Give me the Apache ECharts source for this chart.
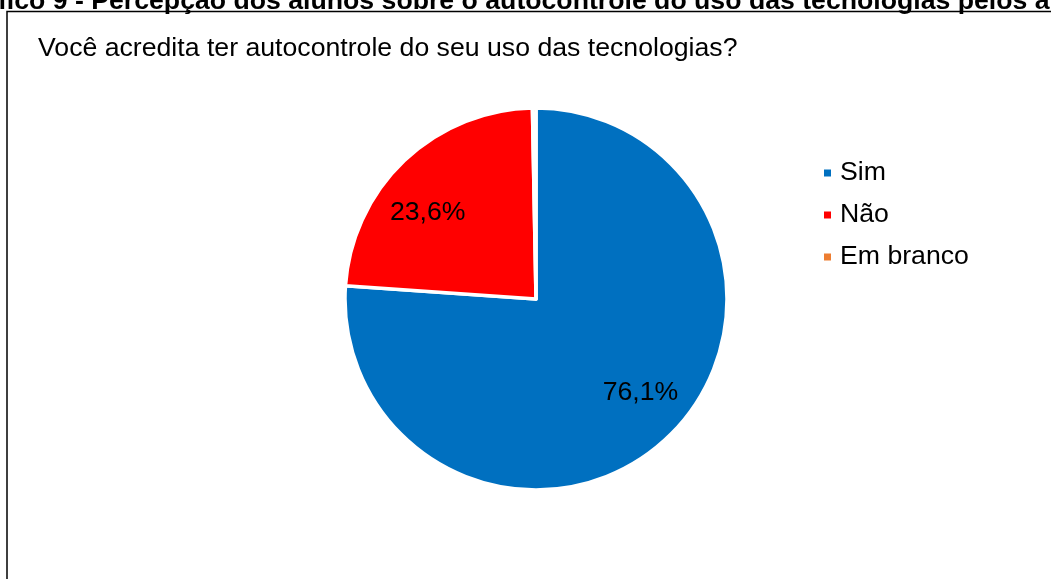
<!DOCTYPE html>
<html>
<head>
<meta charset="utf-8">
<script src="https://cdn.jsdelivr.net/npm/echarts@6/dist/echarts.min.js"></script>
<style>
  html, body { margin: 0; padding: 0; background: #ffffff; }
  #chart { width: 1051px; height: 579px; }
</style>
</head>
<body>
<div id="chart"></div>
<script>
// Survey answers (percent of students)
const categories = ['Sim', 'Não', 'Em branco'];
const shares = [76.1, 23.6, 0.3];
const sliceColors = ['#0070C0', '#FF0000', '#ED7D31'];
const shownLabels = ['Sim', 'Não'];

const figureCaption = 'Gráfico 9 - Percepção dos alunos sobre o autocontrole do uso das tecnologias pelos alunos';
const questionTitle = 'Você acredita ter autocontrole do seu uso das tecnologias?';

const FONT = 'Arial, "Liberation Sans", sans-serif';
const TEXT_SIZE = 26.67;

const pieData = categories.map((name, i) => ({
  name: name,
  value: shares[i],
  itemStyle: { color: sliceColors[i] }
}));

const fmtPct = v => v.toFixed(1).replace('.', ',') + '%';

const chart = echarts.init(document.getElementById('chart'), null, { renderer: 'canvas' });

chart.setOption({
  backgroundColor: '#ffffff',
  animation: false,
  title: {
    text: questionTitle,
    left: 33,
    top: 30,
    textStyle: { fontFamily: FONT, fontSize: TEXT_SIZE, fontWeight: 'normal', color: '#000000' }
  },
  legend: {
    orient: 'vertical',
    left: 817,
    top: 153,
    data: categories,
    icon: 'rect',
    itemWidth: 9,
    itemHeight: 9,
    itemGap: 12,
    selectedMode: false,
    textStyle: { fontFamily: FONT, fontSize: TEXT_SIZE, color: '#000000', lineHeight: 30, padding: [0, 0, 0, 3] }
  },
  graphic: [
    {
      type: 'rect',
      silent: true,
      shape: { x: 7, y: 11.5, width: 1200, height: 800 },
      style: { fill: 'none', stroke: '#000000', lineWidth: 1.5 },
      z: 10
    },
    {
      type: 'text',
      silent: true,
      x: -48,
      y: 2,
      style: {
        text: figureCaption,
        font: 'bold ' + TEXT_SIZE + 'px ' + FONT,
        fill: '#000000',
        verticalAlign: 'middle',
        align: 'left'
      },
      z: 10
    }
  ],
  series: [
    {
      type: 'pie',
      center: [536, 299],
      radius: [0, 191],
      startAngle: 90,
      clockwise: true,
      silent: true,
      data: pieData,
      itemStyle: { borderColor: '#ffffff', borderWidth: 3.5 },
      label: { show: false },
      labelLine: { show: false }
    },
    {
      // transparent ring used only to place the percentage labels
      type: 'pie',
      center: [536, 299],
      radius: [84, 191],
      startAngle: 95,
      clockwise: true,
      silent: true,
      data: pieData.map(d => ({ name: d.name, value: d.value })),
      itemStyle: { color: 'rgba(0,0,0,0)', borderWidth: 0 },
      label: {
        show: true,
        position: 'inside',
        fontFamily: FONT,
        fontSize: TEXT_SIZE,
        color: '#000000',
        formatter: p => shownLabels.includes(p.name) ? fmtPct(p.value) : ''
      },
      // nudge the "Não" label a little lower-left inside its slice
      labelLayout: p => (p.dataIndex === 1 ? { dx: -3, dy: 7 } : {}),
      labelLine: { show: false },
      emphasis: { disabled: true }
    }
  ]
});
</script>
</body>
</html>
